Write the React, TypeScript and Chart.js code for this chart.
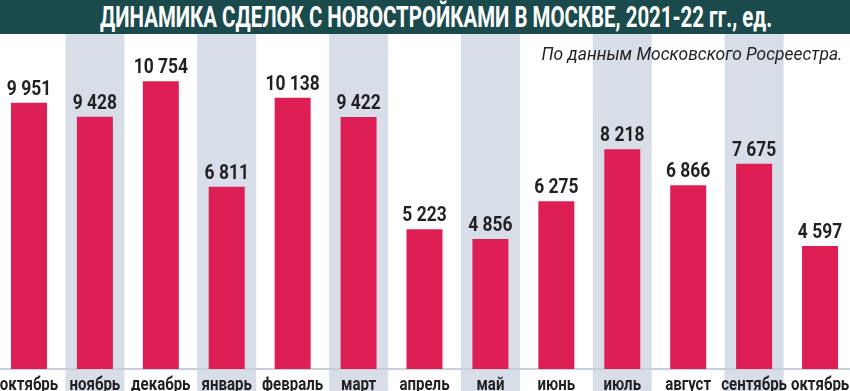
import React, { useEffect, useLayoutEffect, useRef } from "react";
import { Chart, registerables } from "chart.js";

Chart.register(...registerables);

const categories = [
  "октябрь", "ноябрь", "декабрь", "январь", "февраль", "март", "апрель",
  "май", "июнь", "июль", "август", "сентябрь", "октябрь",
];
const values = [9951, 9428, 10754, 6811, 10138, 9422, 5223, 4856, 6275, 8218, 6866, 7675, 4597];
const titleText = "ДИНАМИКА СДЕЛОК С НОВОСТРОЙКАМИ В МОСКВЕ, 2021-22 гг., ед.";
const sourceText = "По данным Московского Росреестра.";

const FONT = "Roboto, 'Noto Sans', sans-serif";
const BAR = "#dd1f56";
const STRIPE = "#d7dee7";
const AXIS = "#c6cfda";
const TEXT = "#231f20";
const HEAD = "#1b4a4c";

const fmt = (v: number) => String(v).replace(/\B(?=(\d{3})+(?!\d))/g, " ");

const stripes = {
  id: "stripes",
  beforeDraw(chart: any) {
    const { ctx } = chart;
    const xs = chart.scales.x;
    ctx.save();
    ctx.fillStyle = STRIPE;
    categories.forEach((_, i) => {
      if (i % 2 === 1) {
        const x = xs.getPixelForValue(i);
        ctx.fillRect(x - 29.5, 0, 59, chart.height);
      }
    });
    ctx.restore();
  },
};

const drawSquashed = (ctx: any, text: string, x: number, y: number, sx: number) => {
  ctx.save();
  ctx.translate(x, y);
  ctx.scale(sx, 1);
  ctx.fillText(text, 0, 0);
  ctx.restore();
};

const textLabels = {
  id: "textLabels",
  afterDatasetsDraw(chart: any) {
    const { ctx } = chart;
    const meta = chart.getDatasetMeta(0);
    const xs = chart.scales.x;
    ctx.save();
    ctx.fillStyle = TEXT;
    ctx.textAlign = "center";
    ctx.textBaseline = "alphabetic";
    ctx.font = `bold 21px ${FONT}`;
    meta.data.forEach((el: any, i: number) => {
      drawSquashed(ctx, fmt(values[i]), el.x, el.y - 8, 0.83);
    });
    ctx.font = `bold 17.5px ${FONT}`;
    categories.forEach((c, i) => {
      drawSquashed(ctx, c, xs.getPixelForValue(i), 389.5, 0.86);
    });
    ctx.restore();
  },
};

function Fit({ text, width, style }: { text: string; width: number; style: any }) {
  const ref = useRef<HTMLSpanElement>(null);
  useLayoutEffect(() => {
    const el = ref.current;
    if (!el) return;
    el.style.transform = "none";
    const w = el.getBoundingClientRect().width;
    if (w > 0) el.style.transform = `scaleX(${width / w})`;
  }, [text, width]);
  return (
    <span ref={ref} style={{ display: "inline-block", whiteSpace: "nowrap", ...style }}>
      {text}
    </span>
  );
}

export default function App() {
  const ref = useRef<HTMLCanvasElement>(null);
  useEffect(() => {
    if (!ref.current) return;
    const chart = new Chart(ref.current, {
      type: "bar",
      data: {
        labels: categories,
        datasets: [
          {
            data: values,
            backgroundColor: BAR,
            barPercentage: 0.546,
            categoryPercentage: 1,
          },
        ],
      },
      options: {
        responsive: false,
        animation: false,
        layout: { padding: { top: 48, bottom: 22, left: 0, right: 0 } },
        plugins: { legend: { display: false }, tooltip: { enabled: false } },
        scales: {
          x: {
            grid: { display: false, drawTicks: false },
            border: { display: true, color: AXIS, width: 2 },
            ticks: { display: false },
          },
          y: { display: false, min: 0, max: 12000 },
        },
      },
      plugins: [stripes, textLabels],
    });
    return () => chart.destroy();
  }, []);

  return (
    <div
      style={{
        position: "absolute",
        left: 0,
        top: 0,
        width: 850,
        height: 391,
        overflow: "hidden",
        background: "#fff",
      }}
    >
      <canvas
        ref={ref}
        width={857}
        height={391}
        style={{ position: "absolute", left: -4, top: 0, width: 857, height: 391 }}
      />
      <div
        style={{
          position: "absolute",
          left: 0,
          top: 0,
          width: 850,
          height: 34,
          background: HEAD,
        }}
      />
      <div
        style={{
          position: "absolute",
          left: 436 - 1000,
          top: 0,
          width: 2000,
          height: 34,
          textAlign: "center",
          color: "#fff",
          fontFamily: FONT,
          fontWeight: "bold",
          fontSize: 29,
          lineHeight: "34px",
          whiteSpace: "nowrap",
        }}
      >
        <Fit text={titleText} width={672} style={{ transformOrigin: "center" }} />
      </div>
      <div
        style={{
          position: "absolute",
          right: 7,
          top: 44,
          color: TEXT,
          fontFamily: FONT,
          fontStyle: "italic",
          fontSize: 17.5,
          lineHeight: "20px",
          whiteSpace: "nowrap",
        }}
      >
        <Fit text={sourceText} width={301} style={{ transformOrigin: "right" }} />
      </div>
    </div>
  );
}
